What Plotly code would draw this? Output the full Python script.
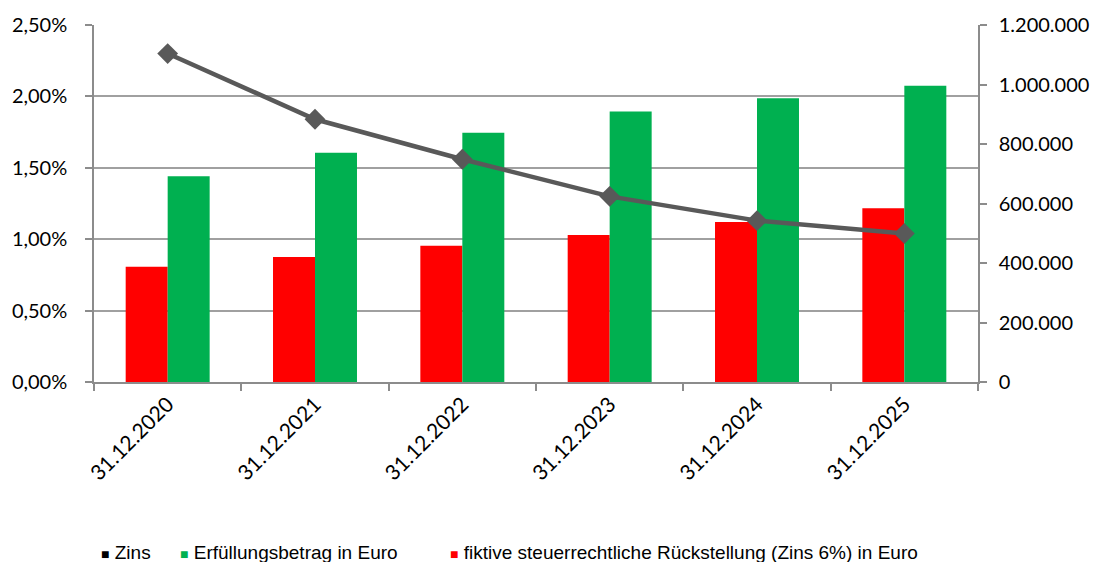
import plotly.graph_objects as go

categories = ["31.12.2020", "31.12.2021", "31.12.2022", "31.12.2023", "31.12.2024", "31.12.2025"]
zins = [0.0230, 0.0184, 0.0156, 0.0130, 0.0113, 0.0104]
erfuellungsbetrag = [692000, 771000, 838000, 909000, 954000, 996000]
fiktive = [387000, 420000, 458000, 494000, 538000, 584000]

left_ticks = [0, 0.005, 0.01, 0.015, 0.02, 0.025]
right_ticks = [0, 200000, 400000, 600000, 800000, 1000000, 1200000]

legend_names = ["Zins", "Erfüllungsbetrag in Euro",
                "fiktive steuerrechtliche Rückstellung (Zins 6%) in Euro"]

RED = "#FF0000"
GREEN = "#00B050"
LINE = "#595959"
GRID = "#A0A0A0"
AXIS = "#8C8C8C"
FONT = "Lato"
YTICKSIZE = 20
XTICKSIZE = 21

# page has an 8px body margin -> figure is slightly smaller, margins shifted
OFF = 8
W, H = 1101 - OFF, 562 - OFF
ML, MT, PW, PH = 94 - OFF, 25 - OFF, 884, 357

fig = go.Figure()

fig.add_trace(go.Bar(x=categories, y=fiktive, marker=dict(color=RED, line=dict(width=0)),
                     yaxis="y", showlegend=False, name=legend_names[2]))
fig.add_trace(go.Bar(x=categories, y=erfuellungsbetrag, marker=dict(color=GREEN, line=dict(width=0)),
                     yaxis="y", showlegend=False, name=legend_names[1]))
fig.add_trace(go.Scatter(x=categories, y=zins, mode="lines+markers", yaxis="y2",
                         line=dict(color=LINE, width=4.5),
                         marker=dict(symbol="diamond", size=16, color=LINE),
                         showlegend=False, name=legend_names[0]))

axis_common = dict(showline=True, linecolor=AXIS, linewidth=1.5,
                   ticks="outside", ticklen=7, tickcolor=AXIS, tickwidth=1.5,
                   automargin=False)

fig.update_layout(
    width=W, height=H,
    margin=dict(l=ML, r=W - ML - PW, t=MT, b=H - MT - PH, autoexpand=False),
    paper_bgcolor="white", plot_bgcolor="white",
    separators=",.",
    barmode="group", bargap=0.43, bargroupgap=0,
    font=dict(family=FONT, size=YTICKSIZE, color="#000000"),
    showlegend=False,
    xaxis=dict(type="category", tickangle=-45, showgrid=False,
               tickson="boundaries", tickfont=dict(family=FONT, size=XTICKSIZE),
               **axis_common),
    yaxis=dict(range=[0, 1200000], tickvals=right_ticks, tickformat=",d",
               side="right", showgrid=False, ticklabelstandoff=8,
               zeroline=False, tickfont=dict(family=FONT, size=YTICKSIZE),
               **axis_common),
    yaxis2=dict(range=[0, 0.025], tickvals=left_ticks, tickformat=".2%",
                overlaying="y", side="left", ticklabelstandoff=14,
                showgrid=True, gridcolor=GRID, gridwidth=1.5,
                zeroline=False, tickfont=dict(family=FONT, size=YTICKSIZE),
                **axis_common),
)

# legend drawn as text items at the reference positions (page pixels)
colors = ["#000000", GREEN, RED]
legend_x = [99, 178, 448]
legend_y = 552
for nm, col, px in zip(legend_names, colors, legend_x):
    fig.add_annotation(
        text=f'<span style="color:{col};font-size:14px">■</span> {nm}',
        xref="paper", yref="paper",
        x=(px - OFF - ML) / PW, y=(MT + PH - (legend_y - OFF)) / PH,
        xanchor="left", yanchor="middle", showarrow=False,
        font=dict(family="Liberation Sans", size=19, color="#000000"))

fig.write_html("out.html")
